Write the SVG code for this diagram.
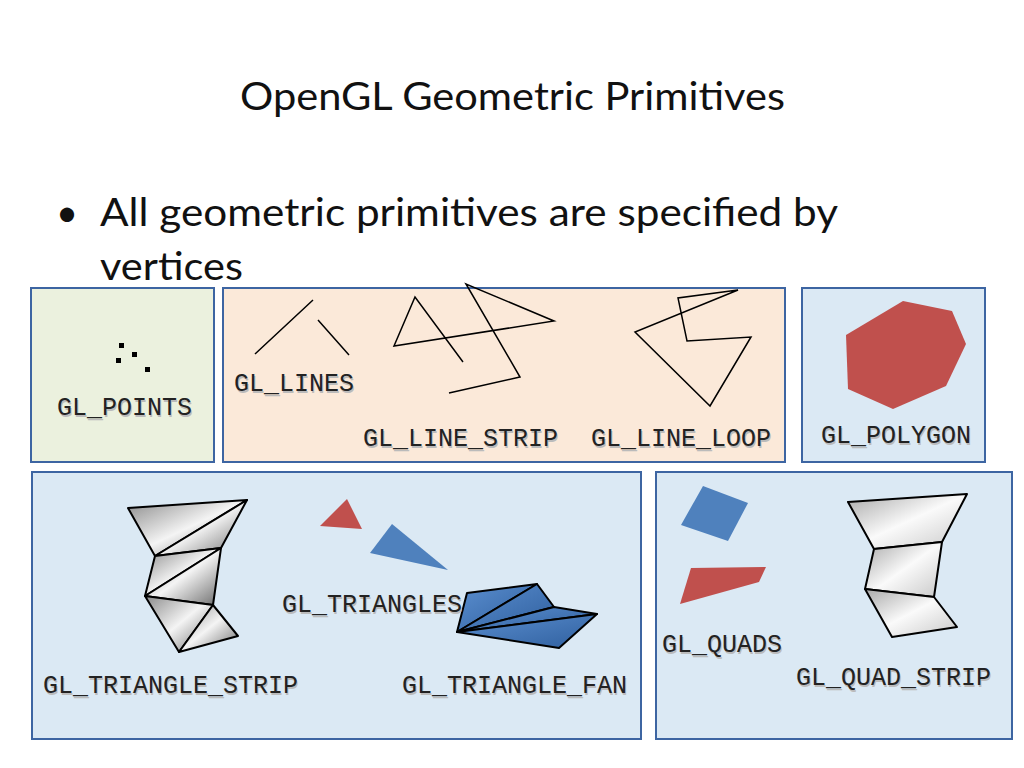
<svg xmlns="http://www.w3.org/2000/svg" width="1024" height="768" viewBox="0 0 1024 768">
<defs>
<linearGradient id="g" x1="0" y1="0" x2="1" y2="1"><stop offset="0" stop-color="#8a8a8a"/><stop offset="0.5" stop-color="#f4f4f4"/><stop offset="1" stop-color="#6a6a6a"/></linearGradient>
<linearGradient id="g2" x1="0" y1="0" x2="1" y2="1"><stop offset="0" stop-color="#a8a8a8"/><stop offset="0.5" stop-color="#fafafa"/><stop offset="1" stop-color="#c8c8c8"/></linearGradient>
<linearGradient id="b" x1="0" y1="0" x2="1" y2="1"><stop offset="0" stop-color="#5b8fd0"/><stop offset="1" stop-color="#2f5f9e"/></linearGradient>
</defs>
<style>
.box{stroke:#3d65a2;stroke-width:2}
.lbl{font-family:"Liberation Mono","Courier New",monospace;font-size:25px;fill:#222}
.sh{font-family:"Liberation Mono","Courier New",monospace;font-size:25px;fill:#bbb}
.ln{fill:none;stroke:#000;stroke-width:1.5}
.ed{stroke:#000;stroke-width:2;stroke-linejoin:round}
.t{font-family:Lato,"Open Sans",sans-serif;font-size:38px;fill:#111}
</style>
<rect width="1024" height="768" fill="#fff"/>
<text class="t" x="240" y="110" textLength="545" lengthAdjust="spacingAndGlyphs">OpenGL Geometric Primitives</text>
<text class="t" x="56" y="226">•</text>
<text class="t" x="100" y="226" textLength="738" lengthAdjust="spacingAndGlyphs">All geometric primitives are specified by</text>
<text class="t" x="100" y="280" textLength="143" lengthAdjust="spacingAndGlyphs">vertices</text>

<g id="points">
<rect class="box" x="31" y="288" width="183" height="174" fill="#ebf1de"/>
<g fill="#000"><rect x="119" y="343" width="5" height="5"/><rect x="116" y="358" width="5" height="5"/><rect x="132" y="352" width="5" height="5"/><rect x="145" y="367" width="5" height="5"/></g>
<text class="sh" x="58" y="417">GL_POINTS</text><text class="lbl" x="57" y="415">GL_POINTS</text>
</g>
<g id="lines">
<rect class="box" x="223" y="288" width="562" height="174" fill="#fbe9d9"/>
<path class="ln" d="M255,354L313,300M318,320L349,355"/>
<polyline class="ln" points="463,362 415,297 394,346 554,321 466,284 520,377 449,393"/>
<polygon class="ln" points="710,406 751,337 687,341 678,298 738,290 635,332"/>
<text class="sh" x="235" y="393">GL_LINES</text><text class="lbl" x="234" y="391">GL_LINES</text>
<text class="sh" x="364" y="448">GL_LINE_STRIP</text><text class="lbl" x="363" y="446">GL_LINE_STRIP</text>
<text class="sh" x="592" y="448">GL_LINE_LOOP</text><text class="lbl" x="591" y="446">GL_LINE_LOOP</text>
</g>
<g id="polygon">
<rect class="box" x="802" y="288" width="183" height="174" fill="#dbe9f4"/>
<polygon points="846,335 903,301 952,311 966,344 946,386 893,409 848,389" fill="#c0504d"/>
<text class="sh" x="822" y="445">GL_POLYGON</text><text class="lbl" x="821" y="443">GL_POLYGON</text>
</g>
<g id="triangles">
<rect class="box" x="32" y="472" width="609" height="267" fill="#dbe9f4"/>
<g class="ed" fill="url(#g)">
<polygon points="128,508 247,500 155,556"/><polygon points="247,500 155,556 221,548"/>
<polygon points="155,556 221,548 145,596"/><polygon points="221,548 145,596 213,605"/>
<polygon points="145,596 213,605 179,652"/><polygon points="213,605 179,652 238,636"/>
</g>
<polygon points="320,526 347,499 362,529" fill="#c0504d"/>
<polygon points="370,553 392,524 448,570" fill="#4f81bd"/>
<g class="ed" fill="url(#b)">
<polygon points="457,632 467,593 537,584"/><polygon points="457,632 537,584 554,607"/>
<polygon points="457,632 554,607 597,614"/><polygon points="457,632 597,614 559,648"/>
</g>
<text class="sh" x="283" y="614">GL_TRIANGLES</text><text class="lbl" x="282" y="612">GL_TRIANGLES</text>
<text class="sh" x="44" y="695">GL_TRIANGLE_STRIP</text><text class="lbl" x="43" y="693">GL_TRIANGLE_STRIP</text>
<text class="sh" x="403" y="695">GL_TRIANGLE_FAN</text><text class="lbl" x="402" y="693">GL_TRIANGLE_FAN</text>
</g>
<g id="quads">
<rect class="box" x="656" y="472" width="356" height="267" fill="#dbe9f4"/>
<polygon points="681,525 703,486 748,503 728,541" fill="#4f81bd"/>
<polygon points="680,604 691,568 766,567 759,582" fill="#c0504d"/>
<g class="ed" fill="url(#g2)">
<polygon points="848,502 967,494 942,542 874,549"/>
<polygon points="874,549 942,542 934,597 865,589"/>
<polygon points="865,589 934,597 957,627 892,637"/>
</g>
<text class="sh" x="663" y="654">GL_QUADS</text><text class="lbl" x="662" y="652">GL_QUADS</text>
<text class="sh" x="797" y="687">GL_QUAD_STRIP</text><text class="lbl" x="796" y="685">GL_QUAD_STRIP</text>
</g>
</svg>
